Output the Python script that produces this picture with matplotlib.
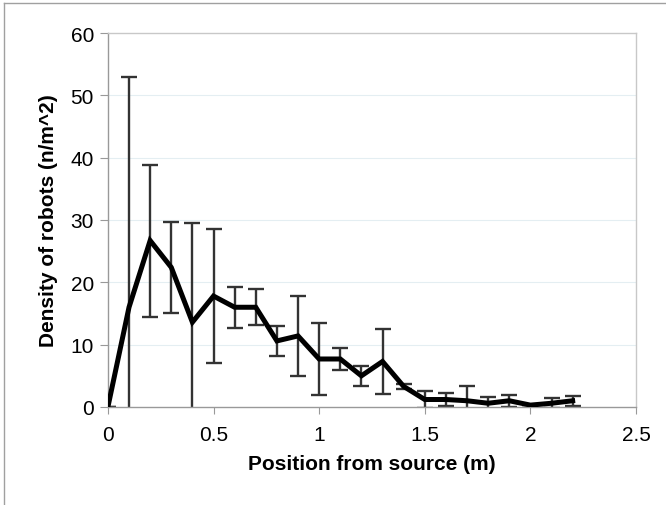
import matplotlib
matplotlib.use("Agg")
import matplotlib.pyplot as plt
from matplotlib.lines import Line2D

# distance from source (m)
position = [0.0, 0.1, 0.2, 0.3, 0.4, 0.5, 0.6, 0.7, 0.8, 0.9, 1.0, 1.1,
            1.2, 1.3, 1.4, 1.5, 1.6, 1.7, 1.8, 1.9, 2.0, 2.1, 2.2]
# mean robot density (n/m^2)
density = [0.0, 16.0, 26.7, 22.4, 13.6, 17.8, 16.0, 16.0, 10.6, 11.4, 7.7, 7.7,
           5.0, 7.3, 3.3, 1.2, 1.2, 1.0, 0.6, 1.0, 0.3, 0.6, 1.0]
# error bar half-widths
density_err = [0.0, 36.9, 12.2, 7.3, 15.9, 10.8, 3.3, 2.9, 2.4, 6.4, 5.8, 1.7,
               1.6, 5.2, 0.4, 1.3, 1.1, 2.3, 1.0, 1.0, 0.0, 0.8, 0.8]

x_ticks = [0, 0.5, 1, 1.5, 2, 2.5]
x_ticklabels = ["0", "0.5", "1", "1.5", "2", "2.5"]
y_ticks = [0, 10, 20, 30, 40, 50, 60]

plt.rcParams['font.family'] = ['Liberation Sans', 'DejaVu Sans']

fig = plt.figure(figsize=(6.66, 5.06), dpi=100)
ax = fig.add_axes([0.162, 0.1937, 0.793, 0.7391])

# light grid lines
for yv in y_ticks[1:-1]:
    ax.axhline(yv, color='#e4eef2', lw=0.8, zorder=0)

ax.errorbar(position, density, yerr=density_err, fmt='none',
            ecolor='#333333', elinewidth=1.7, capsize=5.5, capthick=1.7, zorder=2)
ax.plot(position, density, color='black', lw=3.6, zorder=3,
        solid_joinstyle='miter')

ax.set_xlim(0, 2.5)
ax.set_ylim(0, 60)
ax.set_xticks(x_ticks)
ax.set_xticklabels(x_ticklabels)
ax.set_yticks(y_ticks)

for s in ['left', 'bottom']:
    ax.spines[s].set_color('#999999')
    ax.spines[s].set_linewidth(1.0)
for s in ['top', 'right']:
    ax.spines[s].set_color('#c8c8c8')
    ax.spines[s].set_linewidth(1.0)

ax.tick_params(axis='x', direction='out', length=5, width=0.8, color='#999999',
               labelsize=15, pad=8)
ax.tick_params(axis='y', direction='out', length=6, width=0.8, color='#999999',
               labelsize=15, pad=4)

ax.set_xlabel('Position from source (m)', fontsize=15, fontweight='bold', labelpad=7)
ax.set_ylabel('Density of robots (n/m^2)', fontsize=15, fontweight='bold', labelpad=9)

# outer frame (top and left edges visible)
fig.add_artist(Line2D([4 / 666, 1], [1 - 4 / 506, 1 - 4 / 506],
                      transform=fig.transFigure, color='#a0a0a0', lw=1))
fig.add_artist(Line2D([4 / 666, 4 / 666], [0, 1 - 4 / 506],
                      transform=fig.transFigure, color='#a0a0a0', lw=1))

fig.savefig('out.png', dpi=100)
